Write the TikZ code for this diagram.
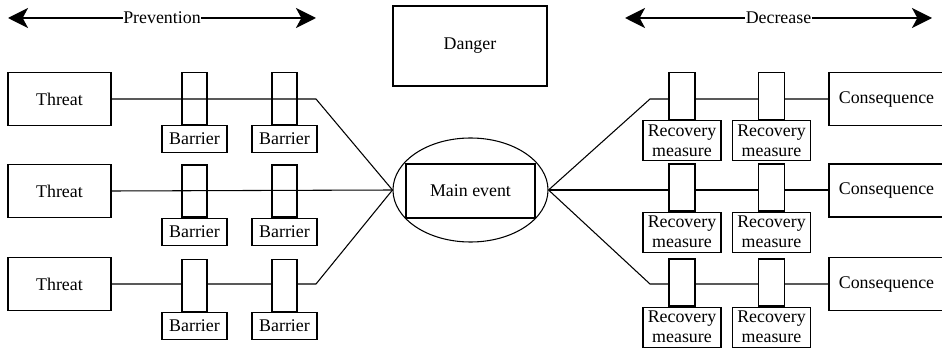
\documentclass[tikz,border=0pt]{standalone}
\usepackage{fontspec}
\setmainfont{Liberation Serif}
\usepackage{tikz}
\usetikzlibrary{arrows.meta,positioning,shapes.geometric}
\tikzset{
  threatbox/.style={
    draw=black,
    line width=0.8pt,
    align=center,
    minimum width=77.25pt,
    minimum height=39.75pt,
    inner sep=2pt,
    font=\fontsize{13.4}{15}\selectfont
  },
  postbox/.style={
    draw=black,
    fill=white,
    line width=0.8pt,
    minimum width=18.75pt,
    minimum height=39pt,
    inner sep=0pt
  },
  labelbox/.style={
    draw=black,
    fill=white,
    line width=0.8pt,
    align=center,
    minimum width=48.75pt,
    minimum height=20.25pt,
    inner sep=1pt,
    font=\fontsize{13.4}{15}\selectfont
  },
  recbox/.style={
    labelbox,
    minimum width=58.5pt,
    minimum height=30pt,
    inner sep=0pt,
    font=\fontsize{13.4}{15}\selectfont
  },
  bigarrow/.style={
    {Stealth[length=15pt,width=15pt,inset=4pt]}-{Stealth[length=15pt,width=15pt,inset=4pt]},
    line width=1.6pt
  },
  link/.style={
    line width=0.8pt
  }
}

\begin{document}
\begin{tikzpicture}[x=0.75pt,y=-0.75pt]
  \useasboundingbox (0,0) rectangle (942,349);

  % top arrows
  \coordinate (pa) at (8,18);
  \coordinate (pb) at (316,18);
  \coordinate (da) at (625,18);
  \coordinate (db) at (932,18);
  \draw[bigarrow] (pa) -- (pb) node[midway,fill=white,inner sep=0.5pt,font=\fontsize{13.4}{15}\selectfont] (prev) {Prevention};
  \draw[bigarrow] (da) -- (db) node[midway,fill=white,inner sep=0.5pt,font=\fontsize{13.4}{15}\selectfont] (decr) {Decrease};

  \node[threatbox, minimum width=115.5pt, minimum height=60pt] (danger) at (470,46) {Danger};

  % main event
  \node[draw=black, line width=0.8pt, ellipse, minimum width=116.25pt, minimum height=78pt] (main) at (470.5,190) {};
  \node[threatbox, minimum width=96.75pt, minimum height=40.5pt] (mainbox) at (470.5,191) {Main event};

  % threats and barriers
  \node[threatbox] (t1) at (59.5,99) {Threat};
  \node[threatbox] (t2) at (59.5,191) {Threat};
  \node[threatbox] (t3) at (59.5,284) {Threat};

  \node[postbox] (b11) at (194.5,98.5) {};
  \node[postbox] (b12) at (284.5,98.5) {};
  \node[postbox] (b21) at (194.5,191) {};
  \node[postbox] (b22) at (284.5,191) {};
  \node[postbox] (b31) at (194.5,285.5) {};
  \node[postbox] (b32) at (284.5,285.5) {};
  \foreach \n in {11,12,21,22,31,32}
    \node[labelbox, below=0pt of b\n] (lb\n) {Barrier};

  \coordinate (k1) at (316,99);
  \coordinate (k3) at (316,284);
  \draw[link] (t1.east) -- (k1) -- (main.west);
  \draw[link] (t2.east) -- (main.west);
  \draw[link] (t3.east) -- (t3.east -| b31.west)
    (t3.east -| b31.east) -- (t3.east -| b32.west)
    (t3.east -| b32.east) -- (k3) -- (main.west);

  % recovery measures and consequences
  \node[postbox, minimum width=19.5pt, minimum height=35.25pt] (r11) at (682,96) {};
  \node[postbox, minimum width=19.5pt, minimum height=35.25pt] (r12) at (771.5,96) {};
  \node[postbox, minimum width=19.5pt, minimum height=35.25pt] (r21) at (682,187.5) {};
  \node[postbox, minimum width=19.5pt, minimum height=35.25pt] (r22) at (771.5,187.5) {};
  \node[postbox, minimum width=19.5pt, minimum height=35.25pt] (r31) at (682,282.5) {};
  \node[postbox, minimum width=19.5pt, minimum height=35.25pt] (r32) at (771.5,282.5) {};
  \foreach \n in {11,12,21,22,31,32}
    \node[recbox, below=0pt of r\n] (lr\n) {Recovery\\measure};

  \node[threatbox, minimum width=86.25pt] (c1) at (886.5,99) {Consequence};
  \node[threatbox, minimum width=86.25pt] (c2) at (886.5,190.5) {Consequence};
  \node[threatbox, minimum width=86.25pt] (c3) at (886.5,284) {Consequence};

  \coordinate (k4) at (650,99);
  \coordinate (k6) at (650,284);
  \draw[link] (main.east) -- (k4) -- (k4 -| r11.west)
    (k4 -| r11.east) -- (k4 -| r12.west)
    (k4 -| r12.east) -- (c1.west);
  \draw[link] (main.east) -- (main.east -| r21.west)
    (main.east -| r21.east) -- (main.east -| r22.west)
    (main.east -| r22.east) -- (main.east -| c2.west);
  \draw[link] (main.east) -- (k6) -- (k6 -| r31.west)
    (k6 -| r31.east) -- (k6 -| r32.west)
    (k6 -| r32.east) -- (c3.west);
\end{tikzpicture}
\end{document}
